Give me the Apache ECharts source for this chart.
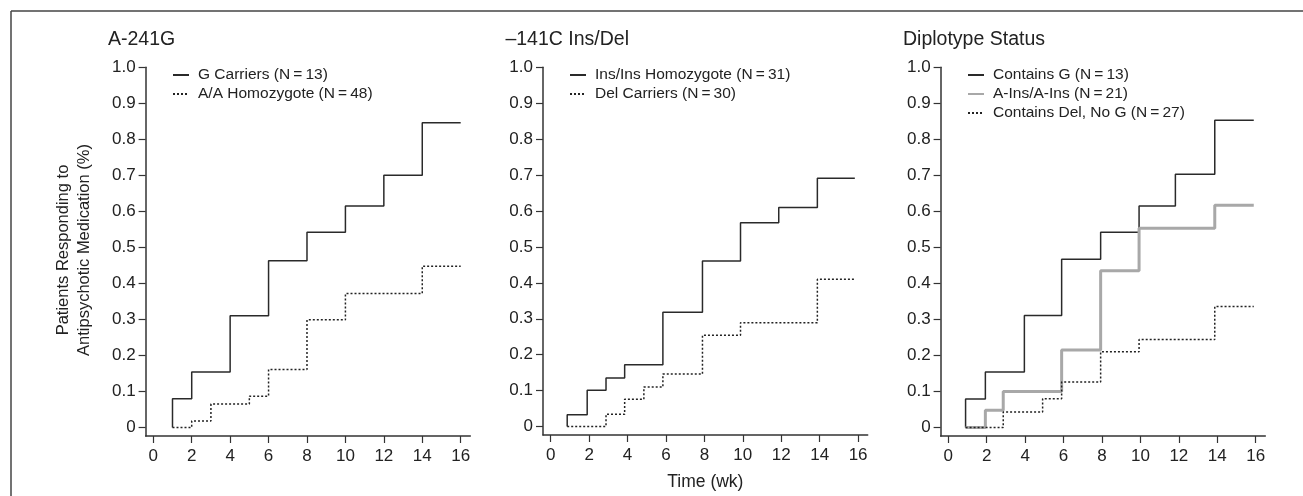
<!DOCTYPE html>
<html>
<head>
<meta charset="utf-8">
<script src="https://cdn.jsdelivr.net/npm/echarts@6/dist/echarts.min.js"></script>
<style>
html,body{margin:0;padding:0;background:#fff;}
#chart{width:1303px;height:496px;}
</style>
</head>
<body>
<div id="chart"></div>
<script>
// ---- Data ----
const panelTitles = ['A-241G', '\u2013141C Ins/Del', 'Diplotype Status'];
const xTickValues = [0, 2, 4, 6, 8, 10, 12, 14, 16];
const yTickValues = [0, 0.1, 0.2, 0.3, 0.4, 0.5, 0.6, 0.7, 0.8, 0.9, 1.0];
const yAxisTitle1 = 'Patients Responding to';
const yAxisTitle2 = 'Antipsychotic Medication (%)';
const xAxisTitle = 'Time (wk)';

// Panel 1: A-241G
const gCarriersName = 'G Carriers (N\u2009=\u200913)';
const gCarriersX = [1, 1, 2, 4, 6, 8, 10, 12, 14, 16];
const gCarriersY = [0, 0.08, 0.154, 0.31, 0.463, 0.542, 0.615, 0.70, 0.846, 0.846];
const aaHomoName = 'A/A Homozygote (N\u2009=\u200948)';
const aaHomoX = [1, 2, 3, 5, 6, 8, 10, 14, 16];
const aaHomoY = [0, 0.018, 0.065, 0.087, 0.161, 0.299, 0.372, 0.448, 0.448];

// Panel 2: -141C Ins/Del
const insInsName = 'Ins/Ins Homozygote (N\u2009=\u200931)';
const insInsX = [0.86, 0.86, 1.9, 2.88, 3.85, 5.84, 7.9, 9.88, 11.87, 13.88, 15.83];
const insInsY = [0, 0.033, 0.101, 0.135, 0.172, 0.318, 0.461, 0.567, 0.610, 0.691, 0.691];
const delCarName = 'Del Carriers (N\u2009=\u200930)';
const delCarX = [0.86, 2.88, 3.85, 4.85, 5.84, 7.9, 9.88, 13.88, 15.83];
const delCarY = [0, 0.034, 0.076, 0.110, 0.146, 0.254, 0.289, 0.41, 0.41];

// Panel 3: Diplotype Status
const containsGName = 'Contains G (N\u2009=\u200913)';
const containsGX = [0.9, 0.9, 1.93, 3.96, 5.9, 7.93, 9.93, 11.82, 13.87, 15.9];
const containsGY = [0, 0.079, 0.154, 0.311, 0.467, 0.542, 0.615, 0.703, 0.853, 0.853];
const aInsName = 'A-Ins/A-Ins (N\u2009=\u200921)';
const aInsX = [0.9, 1.93, 2.86, 5.9, 7.93, 9.93, 13.87, 15.9];
const aInsY = [0, 0.048, 0.1, 0.215, 0.435, 0.553, 0.617, 0.617];
const delNoGName = 'Contains Del, No G (N\u2009=\u200927)';
const delNoGX = [0.9, 2.86, 4.91, 5.9, 7.93, 9.93, 13.87, 15.9];
const delNoGY = [0, 0.043, 0.08, 0.126, 0.21, 0.244, 0.336, 0.336];

// ---- Styling / layout ----
const FONT = '"Liberation Sans", Arial, Helvetica, sans-serif';
const TXT = '#222';
const AX = '#333';
const gridLefts = [145.6, 543, 940.6];
const gridWidth = 324.7;
const gridTop = 67.3;
const gridHeight = 368.7;
const xMin = -0.4, xMax = 16.5;
const yMin = -0.0236, yMax = 1.0;

const solid = { color: '#2a2a2a', width: 1.5, type: 'solid' };
const dotted = { color: '#222', width: 1.5, type: [2, 2] };
const grey = { color: '#a8a8a8', width: 3, type: 'solid' };

function zip(xs, ys) { return xs.map((x, i) => [x, ys[i]]); }

const panels = [
  [ [gCarriersName, gCarriersX, gCarriersY, solid], [aaHomoName, aaHomoX, aaHomoY, dotted] ],
  [ [insInsName, insInsX, insInsY, solid], [delCarName, delCarX, delCarY, dotted] ],
  [ [containsGName, containsGX, containsGY, solid], [aInsName, aInsX, aInsY, grey], [delNoGName, delNoGX, delNoGY, dotted] ]
];

const grid = [], xAxis = [], yAxis = [], series = [], legend = [], title = [];
panels.forEach((p, i) => {
  grid.push({ left: gridLefts[i], top: gridTop, width: gridWidth, height: gridHeight, containLabel: false });
  xAxis.push({
    type: 'value', gridIndex: i, min: xMin, max: xMax,
    axisLine: { show: true, onZero: false, lineStyle: { color: AX, width: 1.5 } },
    axisTick: { show: true, length: 7, inside: false, customValues: xTickValues, lineStyle: { color: AX, width: 1.2 } },
    axisLabel: { show: true, customValues: xTickValues, margin: 12, fontSize: 17, color: TXT, fontFamily: FONT },
    splitLine: { show: false },
    name: i === 1 ? xAxisTitle : '',
    nameLocation: 'middle', nameGap: 38,
    nameTextStyle: { fontSize: 17.5, color: TXT, fontFamily: FONT }
  });
  yAxis.push({
    type: 'value', gridIndex: i, min: yMin, max: yMax,
    axisLine: { show: true, onZero: false, lineStyle: { color: AX, width: 1.5 } },
    axisTick: { show: true, length: 7, inside: false, customValues: yTickValues, lineStyle: { color: AX, width: 1.2 } },
    axisLabel: {
      show: true, customValues: yTickValues, margin: 10, fontSize: 17, color: TXT, fontFamily: FONT,
      formatter: v => (Math.abs(v) < 1e-9 ? '0' : v.toFixed(1))
    },
    splitLine: { show: false }
  });
  title.push({
    text: panelTitles[i], left: gridLefts[i] - 37.6, top: 30,
    textStyle: { fontSize: 19.5, fontWeight: 'normal', color: TXT, fontFamily: FONT }, padding: 0
  });
  const names = [];
  p.forEach(([name, xs, ys, ls]) => {
    names.push(name);
    series.push({
      name, type: 'line', xAxisIndex: i, yAxisIndex: i, step: 'end',
      data: zip(xs, ys), symbol: 'none', showSymbol: false,
      lineStyle: ls, itemStyle: { color: ls.color }, animation: false, silent: true
    });
  });
  legend.push({
    data: names, orient: 'vertical', left: Math.round(gridLefts[i] + 26), top: 67,
    itemWidth: 16, itemHeight: 14, itemGap: 3, padding: 0,
    itemStyle: { opacity: 0 },
    textStyle: { fontSize: 15.5, color: TXT, fontFamily: FONT, padding: [0, 0, 0, 4] },
    selectedMode: false
  });
});

const option = {
  backgroundColor: '#fff',
  animation: false,
  title, grid, xAxis, yAxis, series, legend,
  graphic: [
    { type: 'line', shape: { x1: 11, y1: 11, x2: 1303, y2: 11 }, style: { stroke: '#444', lineWidth: 1.5 } },
    { type: 'line', shape: { x1: 11, y1: 11, x2: 11, y2: 496 }, style: { stroke: '#444', lineWidth: 1.5 } },
    { type: 'text', x: 63, y: 250, rotation: Math.PI / 2,
      style: { text: yAxisTitle1, fontSize: 16.5, fill: TXT, fontFamily: FONT, align: 'center', verticalAlign: 'middle' } },
    { type: 'text', x: 84, y: 250, rotation: Math.PI / 2,
      style: { text: yAxisTitle2, fontSize: 16.5, fill: TXT, fontFamily: FONT, align: 'center', verticalAlign: 'middle' } }
  ]
};

const chart = echarts.init(document.getElementById('chart'), null, { renderer: 'canvas' });
chart.setOption(option);
</script>
</body>
</html>
